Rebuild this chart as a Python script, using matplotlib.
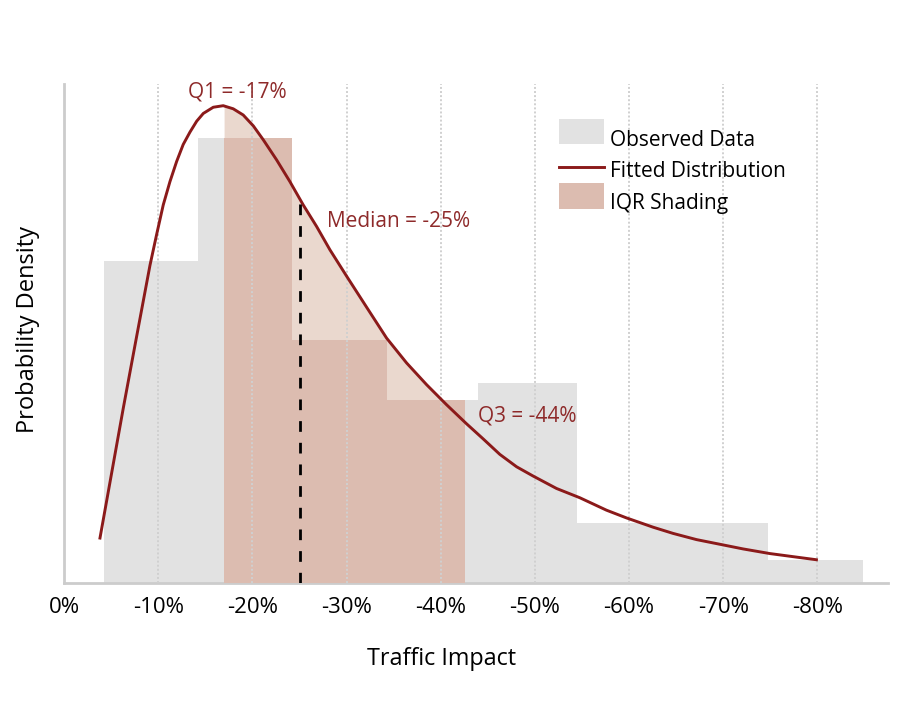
import matplotlib
matplotlib.use("Agg")
import matplotlib.pyplot as plt
import numpy as np
from matplotlib.patches import Rectangle
from matplotlib.lines import Line2D
from matplotlib.transforms import ScaledTranslation

plt.rcParams['font.family'] = ['Open Sans', 'DejaVu Sans']

# ---- data ----
bin_edges = [4.2, 14.2, 24.2, 34.3, 44.0, 54.5, 74.8, 84.8]
bin_density = [0.0208, 0.0287, 0.0157, 0.0118, 0.0129, 0.0039, 0.0015]

curve_x = [3.82, 5.06, 6.30, 7.71, 9.13, 9.84, 10.54, 11.25, 11.96, 12.66,
           13.38, 14.09, 14.79, 15.85, 16.91, 17.97, 19.03, 20.10, 21.16,
           22.58, 23.99, 25.40, 26.83, 28.24, 30.01, 32.13, 34.26, 36.38,
           38.50, 40.63, 42.70, 44.51, 46.28, 48.06, 49.82, 52.30, 54.78,
           57.60, 59.73, 62.56, 64.68, 67.17, 69.64, 72.10, 74.95, 77.42, 79.90]
curve_y = [0.0029, 0.0071, 0.0113, 0.0159, 0.0205, 0.0225, 0.0244, 0.0259,
           0.0272, 0.0283, 0.0291, 0.0298, 0.0303, 0.0307, 0.0308, 0.0306,
           0.0302, 0.0295, 0.0286, 0.0273, 0.0259, 0.0244, 0.0230, 0.0215,
           0.0198, 0.0178, 0.0158, 0.0142, 0.0128, 0.0115, 0.0103, 0.0093,
           0.0083, 0.0075, 0.0069, 0.0061, 0.0055, 0.0047, 0.0042, 0.0036,
           0.0032, 0.0028, 0.0025, 0.0022, 0.0019, 0.0017, 0.0015]

q1, median, q3 = 17.0, 25.1, 42.6
q_labels = ["Q1 = -17%", "Median = -25%", "Q3 = -44%"]

tick_vals = [0, 10, 20, 30, 40, 50, 60, 70, 80]
tick_labels = ["0%", "-10%", "-20%", "-30%", "-40%", "-50%", "-60%", "-70%", "-80%"]

legend_labels = ["Observed Data", "Fitted Distribution", "IQR Shading"]

# ---- styles ----
GREY = '#e2e2e2'
LIGHT = '#ead8ce'
DARK = '#dcbcb0'
RED = '#8b1a1a'
TXT_RED = '#8e2a2a'
SPINE = '#cccccc'

W, H = 898, 713
fig = plt.figure(figsize=(W / 100, H / 100), dpi=100)
ax = fig.add_axes([64 / W, 1 - 583 / H, (888 - 64) / W, (583 - 84) / H])

cx = np.array(curve_x)
cy = np.array(curve_y)
edges = np.array(bin_edges)
dens = np.array(bin_density)

# light IQR fill under curve
mask = (cx > q1) & (cx < q3)
fx = np.concatenate([[q1], cx[mask], [q3]])
fy = np.concatenate([[np.interp(q1, cx, cy)], cy[mask], [np.interp(q3, cx, cy)]])
ax.fill_between(fx, 0, fy, color=LIGHT, lw=0, zorder=1)

# histogram bars
ax.bar(edges[:-1], dens, width=np.diff(edges), align='edge', color=GREY,
       lw=0, zorder=2)

# dark IQR portions of bars
left = np.clip(edges[:-1], q1, q3)
right = np.clip(edges[1:], q1, q3)
keep = right > left
ax.bar(left[keep], dens[keep], width=(right - left)[keep], align='edge',
       color=DARK, lw=0, zorder=3)

# vertical dotted grid
for t in tick_vals[1:]:
    ax.axvline(t, color='#d0d0d0', lw=1.4, ls=(0, (1, 1.1)), zorder=3.5)

# fitted curve
ax.plot(cx, cy, color=RED, lw=2.1, zorder=5, solid_joinstyle='round')

# median line
ax.plot([median, median], [0, np.interp(median, cx, cy)], color='black',
        lw=2.0, ls=(0, (3.85, 3.95)), zorder=6)

# annotations
ax.text(18.4, 0.0313, q_labels[0], color=TXT_RED, fontsize=15,
        ha='center', va='baseline', zorder=7)
ax.text(27.9, 0.0230, q_labels[1], color=TXT_RED, fontsize=15,
        ha='left', va='baseline', zorder=7)
ax.text(43.95, 0.0104, q_labels[2], color=TXT_RED, fontsize=15,
        ha='left', va='baseline', zorder=7)

ax.set_xlim(0, 87.5)
ax.set_ylim(0, 0.0322)
ax.set_xticks(tick_vals)
ax.set_xticklabels(tick_labels, fontsize=16)
for lbl in ax.get_xticklabels():
    lbl.set_transform(lbl.get_transform() + ScaledTranslation(3 / 100, 0, fig.dpi_scale_trans))
ax.set_yticks([])
ax.tick_params(axis='x', length=0, pad=10)
for s in ['top', 'right']:
    ax.spines[s].set_visible(False)
for s in ['left', 'bottom']:
    ax.spines[s].set_color(SPINE)
    ax.spines[s].set_linewidth(2)

ax.set_xlabel("Traffic Impact", fontsize=16.8)
ax.xaxis.set_label_coords((442 - 64) / (888 - 64), -(659 - 583) / (583 - 84))
ax.xaxis.label.set_va('center')
ax.set_ylabel("Probability Density", fontsize=17)
ax.yaxis.set_label_coords(-(64 - 28) / (888 - 64), 0.508)
ax.yaxis.label.set_va('center')

# legend (drawn manually in figure pixel positions)
def fx_(px):
    return px / W

def fy_(py):
    return 1 - py / H

fig.patches.append(Rectangle((fx_(559), fy_(144)), 45 / W, 25 / H,
                             transform=fig.transFigure, facecolor=GREY,
                             edgecolor='none'))
fig.lines.append(Line2D([fx_(559), fx_(604)], [fy_(167), fy_(167)],
                        transform=fig.transFigure, color=RED, lw=2.1))
fig.patches.append(Rectangle((fx_(559), fy_(209)), 45 / W, 26 / H,
                             transform=fig.transFigure, facecolor=DARK,
                             edgecolor='none'))
for lab, base in zip(legend_labels, [146, 177, 209]):
    fig.text(fx_(610), fy_(base), lab, fontsize=15, color='black',
             ha='left', va='baseline')

fig.savefig("out.png", dpi=100)
